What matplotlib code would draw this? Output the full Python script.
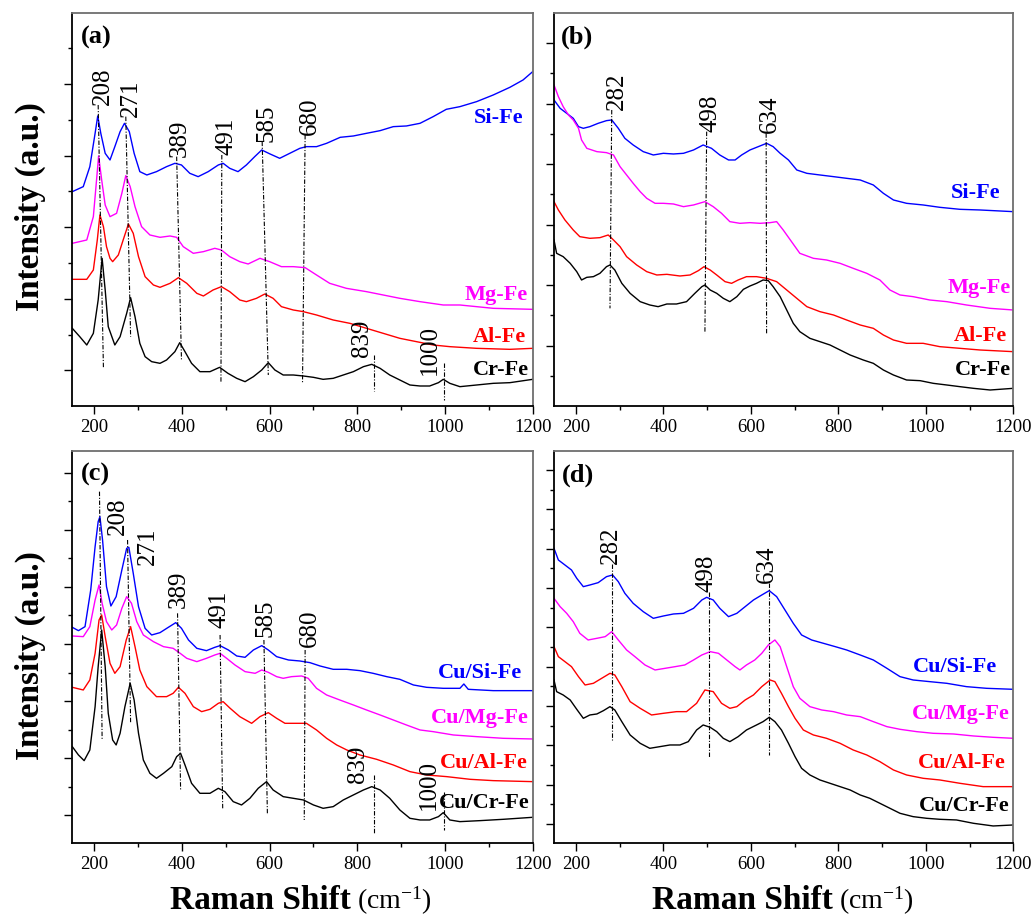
import matplotlib
matplotlib.use("Agg")
import matplotlib.pyplot as plt
from matplotlib.ticker import FixedLocator

plt.rcParams["font.family"] = ["Liberation Serif", "DejaVu Serif"]
plt.rcParams["mathtext.fontset"] = "custom"
plt.rcParams["mathtext.rm"] = "Liberation Serif"

# ---------------- (a) X-Fe oxides ----------------
a_cr_x = [150, 167, 183, 198, 209, 218, 225, 232, 247, 259, 274, 283, 293, 304, 316, 331, 350, 365, 384, 395,
          407, 422, 441, 464, 486, 505, 525, 544, 563, 582, 597, 612, 631, 654, 677, 700, 722, 745, 768, 791,
          814, 833, 852, 874, 897, 920, 943, 965, 985, 996, 1011, 1034, 1072, 1110, 1148, 1200]
a_cr_y = [233, 208, 183, 218, 318, 443, 348, 238, 183, 208, 278, 325, 268, 188, 148, 133, 128, 138, 163, 190,
          163, 128, 103, 103, 116, 98, 83, 73, 88, 108, 130, 108, 93, 93, 90, 86, 80, 83, 93, 103,
          118, 125, 113, 93, 78, 63, 60, 60, 70, 80, 68, 58, 63, 68, 70, 80]
a_al_x = [150, 183, 198, 207, 213, 221, 228, 236, 242, 255, 266, 278, 289, 301, 316, 335, 350, 373, 392, 411,
          434, 449, 471, 490, 509, 532, 547, 570, 589, 608, 627, 654, 677, 707, 745, 783, 821, 859, 897, 935,
          973, 1011, 1072, 1148, 1200]
a_al_y = [380, 380, 408, 498, 573, 538, 478, 443, 433, 453, 498, 546, 518, 448, 388, 363, 356, 368, 385, 368,
          338, 330, 348, 358, 343, 318, 313, 323, 336, 323, 298, 288, 283, 273, 258, 248, 233, 218, 203, 193,
          183, 178, 173, 170, 173]
a_mg_x = [150, 183, 198, 204, 210, 217, 225, 236, 251, 263, 272, 282, 293, 308, 327, 350, 373, 388, 403, 426,
          449, 475, 490, 509, 532, 551, 578, 600, 627, 654, 681, 707, 737, 775, 821, 859, 897, 943, 996, 1034,
          1110, 1200]
a_mg_y = [488, 498, 568, 658, 750, 678, 603, 568, 578, 638, 691, 658, 598, 538, 513, 506, 510, 506, 478, 458,
          463, 473, 468, 448, 433, 426, 443, 433, 418, 418, 415, 393, 368, 353, 343, 333, 323, 313, 303, 303,
          293, 290]
a_si_x = [150, 175, 190, 202, 208, 215, 225, 236, 247, 259, 269, 280, 291, 304, 320, 342, 365, 384, 399, 418,
          437, 460, 483, 494, 509, 528, 547, 566, 582, 601, 623, 646, 669, 684, 707, 730, 761, 791, 821, 852,
          882, 912, 943, 973, 1003, 1034, 1072, 1110, 1148, 1178, 1200]
a_si_y = [643, 658, 718, 818, 870, 818, 758, 738, 778, 823, 848, 823, 758, 703, 693, 703, 718, 728, 723, 698,
          688, 703, 723, 728, 713, 703, 723, 748, 768, 756, 743, 758, 773, 778, 778, 788, 806, 810, 818, 826,
          838, 840, 848, 868, 890, 898, 913, 933, 956, 978, 1003]

# ---------------- (b) X-Fe oxides ----------------
b_cr_x = [150, 156, 171, 187, 202, 213, 225, 240, 255, 270, 278, 289, 305, 324, 347, 369, 388, 408, 430, 453,
          472, 488, 495, 507, 522, 537, 552, 568, 583, 598, 613, 628, 640, 651, 667, 682, 697, 712, 735, 758,
          781, 804, 827, 857, 880, 903, 926, 956, 987, 1017, 1048, 1078, 1109, 1147, 1200]
b_cr_y = [498, 458, 448, 428, 403, 378, 386, 388, 398, 418, 423, 408, 368, 338, 313, 303, 298, 306, 306, 313,
          338, 358, 363, 348, 338, 323, 313, 328, 350, 360, 368, 378, 376, 358, 328, 288, 248, 223, 203, 193,
          183, 168, 153, 138, 128, 108, 93, 78, 76, 68, 63, 58, 53, 48, 53]
b_al_x = [150, 160, 175, 194, 209, 232, 255, 274, 286, 301, 316, 339, 362, 385, 408, 438, 461, 480, 493, 507,
          522, 541, 556, 571, 590, 613, 636, 659, 682, 705, 728, 758, 789, 819, 850, 880, 903, 926, 956, 994,
          1032, 1078, 1124, 1200]
b_al_y = [613, 588, 558, 528, 508, 503, 505, 513, 498, 478, 448, 423, 403, 393, 395, 390, 393, 406, 418, 408,
          393, 373, 368, 378, 388, 388, 383, 373, 348, 323, 298, 283, 273, 258, 243, 233, 213, 198, 188, 188,
          178, 173, 168, 163]
b_mg_x = [150, 160, 171, 183, 194, 206, 213, 225, 248, 270, 286, 301, 316, 331, 347, 362, 381, 400, 423, 446,
          469, 495, 514, 533, 552, 575, 598, 621, 644, 659, 674, 693, 712, 743, 773, 804, 834, 865, 895, 918,
          941, 971, 1009, 1048, 1093, 1147, 1200]
b_mg_y = [963, 928, 898, 873, 858, 833, 798, 773, 763, 760, 753, 718, 693, 668, 643, 623, 608, 608, 606, 598,
          603, 613, 598, 578, 553, 548, 550, 548, 550, 553, 528, 493, 458, 443, 438, 428, 413, 398, 378, 348,
          333, 328, 318, 313, 303, 293, 288]
b_si_x = [150, 164, 179, 194, 206, 217, 232, 251, 270, 282, 297, 312, 331, 354, 377, 400, 423, 446, 469, 491,
          510, 529, 549, 564, 579, 598, 617, 636, 651, 667, 686, 705, 728, 758, 789, 819, 850, 880, 903, 926,
          956, 994, 1032, 1078, 1124, 1200]
b_si_y = [918, 893, 878, 863, 838, 833, 838, 848, 856, 858, 833, 803, 783, 763, 753, 758, 756, 758, 768, 783,
          773, 753, 738, 738, 753, 768, 778, 788, 778, 758, 738, 708, 698, 693, 688, 683, 678, 663, 638, 618,
          608, 603, 596, 590, 588, 583]

# ---------------- (c) Cu/X-Fe catalysts ----------------
c_cr_x = [150, 164, 177, 190, 202, 209, 217, 225, 232, 242, 250, 259, 270, 282, 291, 301, 312, 327, 342, 358,
          377, 388, 397, 407, 422, 441, 464, 483, 498, 517, 536, 555, 574, 593, 608, 631, 654, 677, 700, 722,
          745, 768, 791, 814, 833, 852, 874, 897, 920, 943, 965, 985, 996, 1011, 1034, 1080, 1133, 1200]
c_cr_y = [290, 265, 248, 280, 410, 530, 640, 530, 390, 310, 295, 330, 410, 480, 430, 330, 250, 210, 195, 210,
          230, 260, 270, 235, 180, 150, 150, 165, 155, 125, 115, 135, 165, 185, 160, 140, 135, 130, 115, 105,
          110, 130, 145, 160, 170, 160, 135, 100, 75, 70, 70, 80, 92, 70, 65, 68, 72, 78]
c_al_x = [150, 175, 190, 202, 211, 217, 225, 236, 247, 259, 273, 283, 293, 304, 320, 342, 365, 380, 392, 407,
          426, 445, 464, 483, 494, 510, 532, 559, 578, 597, 616, 635, 662, 684, 707, 730, 753, 776, 806, 844,
          882, 920, 958, 1004, 1057, 1110, 1200]
c_al_y = [468, 460, 490, 570, 670, 685, 620, 540, 510, 530, 610, 650, 590, 520, 470, 440, 440, 450, 468, 450,
          410, 395, 402, 420, 425, 405, 380, 360, 380, 392, 375, 360, 360, 360, 340, 315, 295, 280, 265, 252,
          235, 215, 205, 200, 192, 188, 185]
c_mg_x = [150, 175, 190, 202, 211, 218, 228, 240, 251, 263, 274, 285, 297, 312, 335, 358, 380, 396, 411, 434,
          456, 475, 487, 502, 521, 544, 567, 582, 597, 616, 631, 650, 673, 688, 707, 730, 760, 791, 821, 852,
          882, 912, 943, 973, 1019, 1072, 1133, 1200]
c_mg_y = [622, 620, 650, 730, 775, 720, 665, 640, 655, 705, 740, 720, 665, 625, 605, 590, 585, 570, 555, 545,
          555, 565, 570, 555, 535, 515, 510, 520, 513, 500, 495, 500, 502, 495, 465, 445, 430, 415, 400, 385,
          370, 355, 340, 335, 325, 320, 315, 313]
c_si_x = [150, 164, 179, 192, 202, 209, 213, 219, 228, 238, 250, 263, 274, 279, 289, 301, 316, 331, 350, 369,
          386, 399, 415, 434, 456, 475, 487, 506, 525, 544, 563, 582, 597, 616, 643, 669, 692, 715, 745, 776,
          806, 836, 867, 897, 928, 958, 996, 1034, 1043, 1053, 1110, 1200]
c_si_y = [648, 638, 650, 760, 890, 965, 980, 910, 770, 712, 740, 820, 885, 888, 810, 710, 645, 625, 632, 648,
          662, 645, 610, 585, 578, 588, 593, 580, 562, 558, 580, 593, 580, 560, 550, 547, 542, 532, 522, 522,
          518, 510, 500, 492, 475, 468, 465, 465, 478, 462, 458, 458]

# ---------------- (d) Cu/X-Fe catalysts ----------------
d_cr_x = [150, 156, 171, 187, 202, 217, 232, 248, 263, 278, 289, 305, 324, 347, 369, 392, 415, 438, 457, 476,
          491, 507, 522, 537, 552, 571, 590, 613, 628, 642, 655, 670, 686, 701, 716, 735, 758, 781, 804, 827,
          850, 872, 895, 918, 941, 971, 1002, 1032, 1070, 1109, 1154, 1200]
d_cr_y = [490, 455, 445, 430, 402, 375, 385, 388, 398, 410, 400, 365, 325, 300, 285, 290, 295, 295, 305, 340,
          355, 348, 335, 315, 305, 320, 340, 355, 365, 378, 365, 340, 300, 260, 225, 205, 190, 180, 170, 160,
          145, 135, 120, 105, 90, 80, 75, 72, 70, 60, 52, 55]
d_al_x = [150, 160, 175, 190, 206, 221, 240, 259, 278, 289, 305, 324, 347, 373, 400, 430, 453, 476, 495, 514,
          533, 552, 568, 587, 606, 625, 644, 655, 670, 686, 701, 720, 743, 773, 804, 834, 865, 895, 926, 956,
          994, 1032, 1078, 1131, 1200]
d_al_y = [590, 560, 545, 530, 500, 475, 480, 495, 510, 505, 470, 425, 405, 385, 390, 395, 395, 420, 460, 455,
          420, 405, 410, 430, 445, 470, 490, 485, 450, 410, 375, 340, 325, 315, 300, 280, 265, 245, 220, 205,
          195, 190, 180, 170, 170]
d_mg_x = [150, 164, 179, 194, 209, 228, 248, 267, 282, 297, 316, 335, 358, 381, 404, 427, 449, 469, 488, 507,
          526, 545, 564, 575, 590, 609, 625, 640, 655, 667, 682, 697, 712, 735, 762, 789, 819, 850, 880, 911,
          941, 979, 1017, 1063, 1109, 1154, 1200]
d_mg_y = [735, 710, 690, 665, 630, 610, 615, 620, 635, 610, 580, 560, 535, 520, 525, 530, 535, 550, 565, 575,
          570, 550, 530, 520, 535, 550, 570, 595, 610, 590, 530, 470, 435, 410, 400, 395, 385, 380, 365, 350,
          342, 335, 330, 328, 322, 318, 315]
d_si_x = [150, 160, 175, 190, 202, 217, 232, 251, 270, 284, 297, 312, 331, 354, 377, 400, 423, 446, 469, 488,
          499, 514, 529, 549, 568, 587, 606, 625, 642, 659, 678, 697, 716, 739, 766, 793, 819, 850, 880, 911,
          941, 971, 1009, 1048, 1093, 1139, 1200]
d_si_y = [885, 850, 835, 820, 795, 770, 775, 782, 800, 805, 785, 750, 720, 695, 675, 682, 688, 690, 705, 730,
          738, 730, 705, 680, 690, 710, 730, 745, 758, 740, 700, 660, 625, 610, 600, 590, 580, 565, 550, 525,
          500, 490, 485, 480, 470, 465, 462]

# ---------------- labels ----------------
panel_tags = ["(a)", "(b)", "(c)", "(d)"]
names_top = ["Si-Fe", "Mg-Fe", "Al-Fe", "Cr-Fe"]
names_bottom = ["Cu/Si-Fe", "Cu/Mg-Fe", "Cu/Al-Fe", "Cu/Cr-Fe"]
series_colors = ["#0000ff", "#ff00ff", "#ff0000", "#000000"]

peaks_left = ["208", "271", "389", "491", "585", "680", "839", "1000"]
peaks_right = ["282", "498", "634"]

xticks_major = [200, 400, 600, 800, 1000, 1200]
xticks_minor = [300, 500, 700, 900, 1100]

# Guide lines for the assigned bands: (x_top, y_top, x_bottom, y_bottom) and text anchor (x, y)
guides_a = [(209, 903, 221, 113), (272, 868, 283, 208), (388, 748, 399, 138), (491, 753, 489, 68),
            (583, 793, 597, 93), (681, 813, 675, 68), (838, 153, 838, 46), (998, 128, 998, 18)]
text_a = [(219, 903), (283, 868), (396, 748), (502, 753), (593, 793), (691, 813), (810, 148), (966, 93)]
guides_b = [(282, 888, 278, 293), (499, 823, 495, 218), (635, 818, 636, 218)]
text_b = [(293, 888), (507, 823), (644, 818)]
guides_c = [(212, 1055, 218, 310), (276, 910, 283, 360), (390, 690, 397, 160), (487, 625, 493, 105),
            (587, 610, 595, 85), (681, 580, 679, 70), (837, 205, 837, 32), (998, 155, 998, 40)]
text_c = [(255, 925), (323, 835), (392, 705), (485, 645), (591, 620), (692, 590), (801, 180), (963, 100)]
guides_d = [(283, 838, 283, 310), (505, 755, 505, 260), (641, 780, 641, 265)]
text_d = [(280, 838), (499, 755), (636, 780)]

# Curve name positions (right edge x, centre y)
names_pos_a = [(1180, 863), (1190, 333), (1185, 206), (1192, 108)]
names_pos_b = [(1170, 640), (1194, 353), (1185, 210), (1194, 108)]
names_pos_c = [(1175, 510), (1190, 375), (1188, 242), (1192, 120)]
names_pos_d = [(1162, 528), (1191, 388), (1183, 240), (1191, 112)]

fig = plt.figure(figsize=(10.35, 9.17), dpi=100)
W, H = 1035.0, 917.0


def add_axes(l, t, r, b):
    return fig.add_axes([l / W, 1 - b / H, (r - l) / W, (b - t) / H])


panels = [
    dict(box=(72.3, 13.3, 532.7, 406.0), ylim=1178, ymaj=[107 + 214.8 * k for k in range(5)],
         ymin=[214.4 + 214.8 * k for k in range(5)],
         series=[(a_si_x, a_si_y), (a_mg_x, a_mg_y), (a_al_x, a_al_y), (a_cr_x, a_cr_y)],
         names=names_top, npos=names_pos_a, peaks=peaks_left, guides=guides_a, tpos=text_a,
         tag_pos=(169, 1140)),
    dict(box=(554.0, 13.3, 1013.3, 406.0), ylim=1178, ymaj=[181.4 * k for k in range(1, 7)],
         ymin=[90.7 + 181.4 * k for k in range(6)],
         series=[(b_si_x, b_si_y), (b_mg_x, b_mg_y), (b_al_x, b_al_y), (b_cr_x, b_cr_y)],
         names=names_top, npos=names_pos_b, peaks=peaks_right, guides=guides_b, tpos=text_b,
         tag_pos=(165, 1140)),
    dict(box=(72.3, 451.0, 532.7, 843.3), ylim=1177, ymaj=[84 + 171.3 * k for k in range(7)],
         ymin=[169.7 + 171.3 * k for k in range(6)],
         series=[(c_si_x, c_si_y), (c_mg_x, c_mg_y), (c_al_x, c_al_y), (c_cr_x, c_cr_y)],
         names=names_bottom, npos=names_pos_c, peaks=peaks_left, guides=guides_c, tpos=text_c,
         tag_pos=(169, 1142)),
    dict(box=(554.0, 451.0, 1013.3, 843.3), ylim=1177, ymaj=[58 + 118 * k for k in range(10)],
         ymin=[117 + 118 * k for k in range(9)],
         series=[(d_si_x, d_si_y), (d_mg_x, d_mg_y), (d_al_x, d_al_y), (d_cr_x, d_cr_y)],
         names=names_bottom, npos=names_pos_d, peaks=peaks_right, guides=guides_d, tpos=text_d,
         tag_pos=(167, 1138)),
]

for tag, p in zip(panel_tags, panels):
    ax = add_axes(*p["box"])
    for (xs, ys), col in zip(p["series"], series_colors):
        ax.plot(xs, ys, color=col, lw=1.0, solid_joinstyle="round")
    for (name, (nx, ny)), col in zip(zip(p["names"], p["npos"]), series_colors):
        ax.text(nx, ny, name, color=col, fontsize=16, fontweight="bold", ha="right", va="center")
    for lab, (x0, y0, x1, y1), (tx, ty) in zip(p["peaks"], p["guides"], p["tpos"]):
        ax.plot([x0, x1], [y0, y1], color="black", lw=0.8, linestyle=(0, (4, 1.5, 1, 1.5)))
        ax.text(tx, ty, lab, rotation=90, fontsize=18, ha="center", va="bottom")
    ax.text(p["tag_pos"][0], p["tag_pos"][1], tag, fontsize=19, fontweight="bold", ha="left", va="top")

    ax.set_xlim(150, 1200)
    ax.set_ylim(0, p["ylim"])
    ax.xaxis.set_major_locator(FixedLocator(xticks_major))
    ax.xaxis.set_minor_locator(FixedLocator(xticks_minor))
    ax.yaxis.set_major_locator(FixedLocator(p["ymaj"]))
    ax.yaxis.set_minor_locator(FixedLocator(p["ymin"]))
    ax.set_yticklabels([])
    ax.tick_params(axis="both", which="major", direction="out", length=6, width=1.0, labelsize=13.5, pad=3)
    ax.tick_params(axis="both", which="minor", direction="out", length=3, width=1.0)
    ax.tick_params(top=False, right=False)
    for side in ("left", "bottom"):
        ax.spines[side].set_color("black")
        ax.spines[side].set_linewidth(1.3)
    for side in ("top", "right"):
        ax.spines[side].set_color("#6e6e6e")
        ax.spines[side].set_linewidth(1.3)

# Axis titles
for yc in (207, 656):
    fig.text(30 / W, 1 - yc / H, "Intensity (a.u.)", rotation=90, fontsize=24, fontweight="bold",
             ha="center", va="center")

fig.canvas.draw()
renderer = fig.canvas.get_renderer()
for x_start in (170, 652):
    t = fig.text(x_start / W, 1 - 909 / H, "Raman Shift", fontsize=24, fontweight="bold",
                 ha="left", va="baseline")
    ext = t.get_window_extent(renderer=renderer)
    fig.text((ext.x1 + 6) / W, 1 - 909 / H, r"(cm$\mathregular{^{-1}}$)", fontsize=20,
             ha="left", va="baseline")

fig.savefig("out.png", dpi=100)
